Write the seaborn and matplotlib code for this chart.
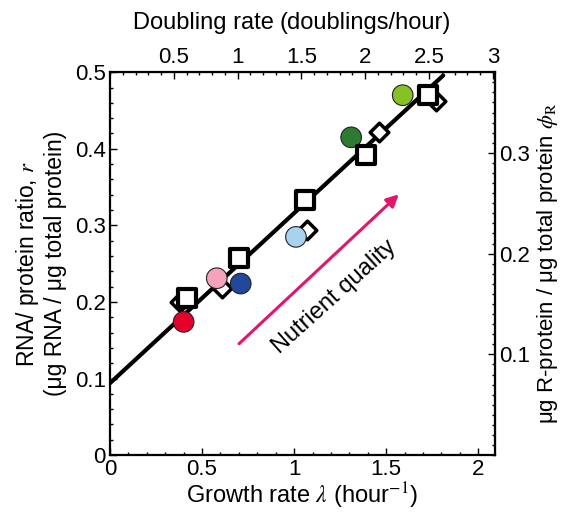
import numpy as np
import pandas as pd
import seaborn as sns
import matplotlib.pyplot as plt
from matplotlib.ticker import MultipleLocator, FixedLocator, FuncFormatter

# values
circle_lambda = [0.40, 0.58, 0.71, 1.01, 1.31, 1.59]
circle_r = [0.174, 0.231, 0.224, 0.285, 0.415, 0.470]
circle_names = ['c1', 'c2', 'c3', 'c4', 'c5', 'c6']
circle_colors = ['#e4002b', '#f5a3bd', '#23479a', '#a9d2f0', '#2e7a30', '#86c226']

square_lambda = [0.42, 0.70, 1.06, 1.39, 1.73]
square_r = [0.205, 0.257, 0.333, 0.392, 0.470]

diamond_lambda = [0.38, 0.61, 1.07, 1.46, 1.77]
diamond_r = [0.200, 0.218, 0.294, 0.422, 0.463]

fit_r0 = 0.094
fit_slope = 0.222
fit_lambda = [0.0, 1.81]

rho = 0.76  # phi_R = rho * r

sns.set_style('ticks')
plt.rcParams['font.family'] = ['Liberation Sans', 'DejaVu Sans']
plt.rcParams['mathtext.fontset'] = 'stix'
for key in ['text.color', 'axes.labelcolor', 'xtick.color', 'ytick.color']:
    plt.rcParams[key] = 'black'

fig = plt.figure(figsize=(5.7, 5.16), dpi=100)
ax = fig.add_axes([0.193, 0.118, 0.675, 0.742])

df_fit = pd.DataFrame({'lam': fit_lambda, 'r': [fit_r0 + fit_slope * l for l in fit_lambda]})
sns.lineplot(data=df_fit, x='lam', y='r', color='black', lw=3, ax=ax, zorder=2)

df_d = pd.DataFrame({'lam': diamond_lambda, 'r': diamond_r})
sns.scatterplot(data=df_d, x='lam', y='r', marker='D', s=90, facecolor='white',
                edgecolor='black', linewidth=2.5, ax=ax, zorder=3)

df_c = pd.DataFrame({'lam': circle_lambda, 'r': circle_r, 'name': circle_names})
sns.scatterplot(data=df_c, x='lam', y='r', hue='name', palette=circle_colors, s=220,
                edgecolor='#222222', linewidth=0.8, legend=False, ax=ax, zorder=4)

df_s = pd.DataFrame({'lam': square_lambda, 'r': square_r})
sns.scatterplot(data=df_s, x='lam', y='r', marker='s', s=160, facecolor='white',
                edgecolor='black', linewidth=3, ax=ax, zorder=5)

ax.set_xlim(0, 2.09)
ax.set_ylim(0, 0.5)
ax.xaxis.set_major_locator(MultipleLocator(0.5))
ax.xaxis.set_minor_locator(MultipleLocator(0.1))
ax.yaxis.set_major_locator(MultipleLocator(0.1))
ax.yaxis.set_minor_locator(MultipleLocator(0.02))
fmt = FuncFormatter(lambda v, p: '%g' % round(v, 3))
ax.xaxis.set_major_formatter(fmt)
ax.yaxis.set_major_formatter(fmt)
ax.tick_params(which='both', direction='in', labelsize=16, width=1, pad=3)
ax.tick_params(which='major', length=5)
ax.tick_params(which='minor', length=2.5)
for sp in ax.spines.values():
    sp.set_linewidth(1.6)
    sp.set_color('black')

ax.set_xlabel(r'Growth rate $\lambda$ (hour$^{\mathrm{-1}}$)', fontsize=17, labelpad=0)
ax.set_ylabel('RNA/ protein ratio, $r$\n(\u03bcg RNA / \u03bcg total protein)', fontsize=16.5,
              labelpad=6, linespacing=1.15)

# top axis: doublings per hour
top = ax.secondary_xaxis('top', functions=(lambda x: x / np.log(2), lambda d: d * np.log(2)))
top.xaxis.set_major_locator(MultipleLocator(0.5))
top.xaxis.set_minor_locator(MultipleLocator(0.1))
top.xaxis.set_major_formatter(fmt)
top.tick_params(which='both', direction='in', labelsize=16, width=1, pad=3)
top.tick_params(which='major', length=5)
top.tick_params(which='minor', length=2.5)
top.set_xticks([0.5, 1, 1.5, 2, 2.5, 3])
t1 = fig.text(0.233, 0.944, 'Doubling rate', fontsize=17, va='baseline')
ax.annotate('(doublings/hour)', xy=(1, 0), xycoords=t1, xytext=(4, 0),
            textcoords='offset points', fontsize=17, va='bottom')

# right axis: R-protein fraction
right = ax.secondary_yaxis('right', functions=(lambda r: r * rho, lambda p: p / rho))
right.yaxis.set_major_locator(FixedLocator([0.1, 0.2, 0.3]))
right.yaxis.set_minor_locator(MultipleLocator(0.01))
right.yaxis.set_major_formatter(fmt)
right.tick_params(which='both', direction='in', labelsize=16, width=1, pad=3)
right.tick_params(which='major', length=5)
right.tick_params(which='minor', length=2.5)
right.set_ylabel('\u03bcg R-protein / \u03bcg total protein $\\phi_{\\mathrm{R}}$',
                 fontsize=16, rotation=90, labelpad=4)

# nutrient quality arrow
ax.annotate('', xy=(1.58, 0.343), xytext=(0.69, 0.143),
            arrowprops=dict(arrowstyle='-|>', color='#e0176a', lw=2.2, mutation_scale=18))
ax.text(1.22, 0.206, 'Nutrient quality', fontsize=17, rotation=42,
        rotation_mode='anchor', ha='center', va='center')

fig.savefig('out.png', dpi=100)
